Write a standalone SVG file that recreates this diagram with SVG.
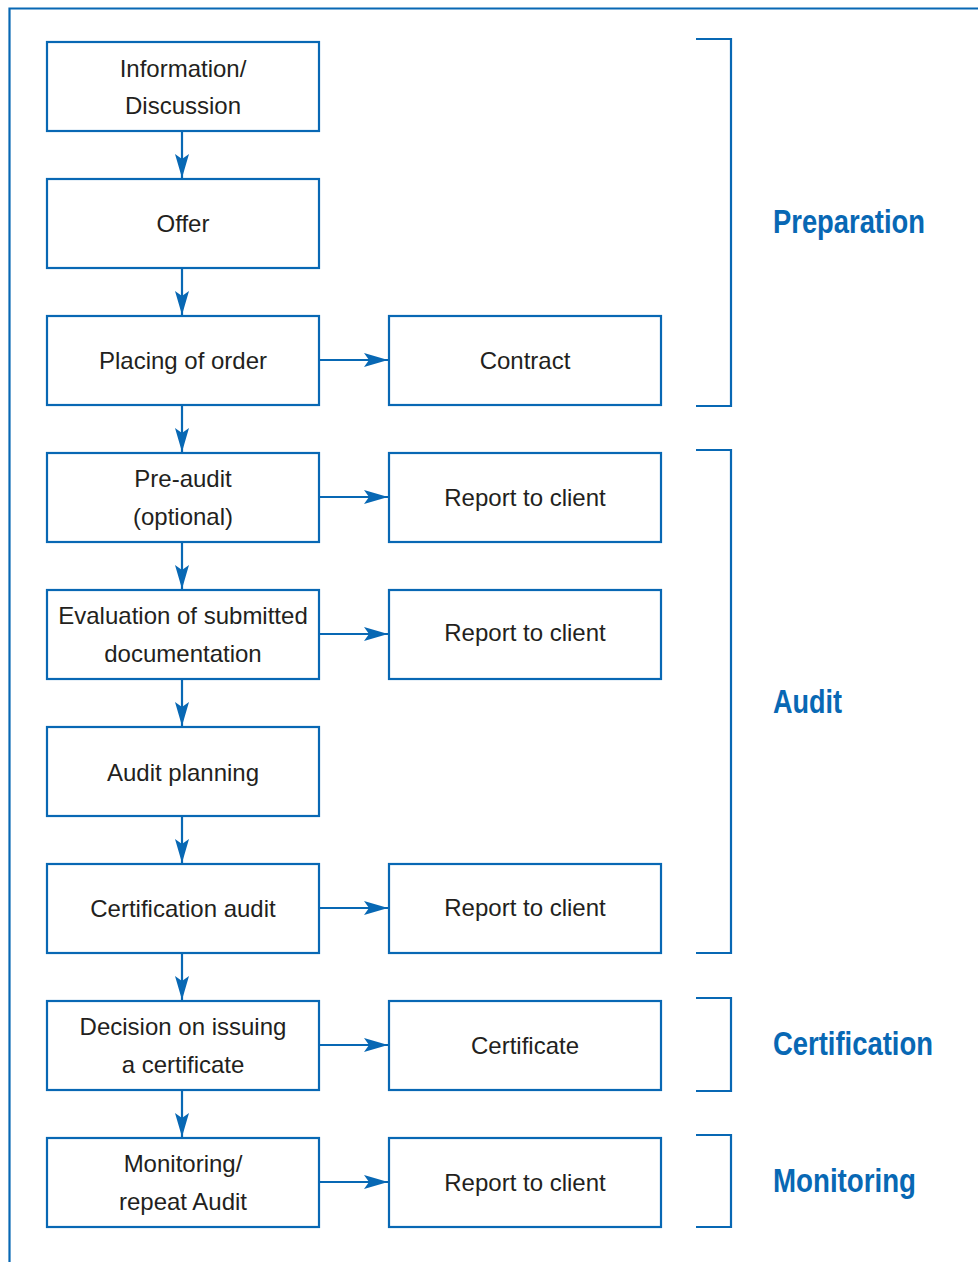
<svg xmlns="http://www.w3.org/2000/svg" width="978" height="1262" viewBox="0 0 978 1262">
<style>
.box{fill:#fff;stroke:#0868b4;stroke-width:2.2}
.t{font-family:"Liberation Sans",Arial,sans-serif;font-size:24px;fill:#231f20;text-anchor:middle}
.lab{font-family:"Liberation Sans",Arial,sans-serif;font-size:33px;font-weight:bold;fill:#0868b4}
.c{stroke:#0868b4;stroke-width:2.2;fill:none}
</style>
<defs>
<marker id="ah" viewBox="0 0 24 14" refX="24" refY="7" markerWidth="24" markerHeight="14" markerUnits="userSpaceOnUse" orient="auto">
<path d="M0,0 L24,7 L0,14 L5,7 Z" fill="#0868b4"/>
</marker>
</defs>
<rect width="978" height="1262" fill="#fff"/>
<path class="c" d="M9.5,1262 V8.5 H978"/>
<g id="connectors">
<line class="c" x1="182" y1="131" x2="182" y2="178" marker-end="url(#ah)"/>
<line class="c" x1="182" y1="268" x2="182" y2="315" marker-end="url(#ah)"/>
<line class="c" x1="182" y1="405" x2="182" y2="452" marker-end="url(#ah)"/>
<line class="c" x1="182" y1="542" x2="182" y2="589" marker-end="url(#ah)"/>
<line class="c" x1="182" y1="679" x2="182" y2="726" marker-end="url(#ah)"/>
<line class="c" x1="182" y1="816" x2="182" y2="863" marker-end="url(#ah)"/>
<line class="c" x1="182" y1="953" x2="182" y2="1000" marker-end="url(#ah)"/>
<line class="c" x1="182" y1="1090" x2="182" y2="1137" marker-end="url(#ah)"/>
<line class="c" x1="319" y1="360" x2="388" y2="360" marker-end="url(#ah)"/>
<line class="c" x1="319" y1="497" x2="388" y2="497" marker-end="url(#ah)"/>
<line class="c" x1="319" y1="634" x2="388" y2="634" marker-end="url(#ah)"/>
<line class="c" x1="319" y1="908" x2="388" y2="908" marker-end="url(#ah)"/>
<line class="c" x1="319" y1="1045" x2="388" y2="1045" marker-end="url(#ah)"/>
<line class="c" x1="319" y1="1182" x2="388" y2="1182" marker-end="url(#ah)"/>
</g>
<g id="n1"><rect class="box" x="47" y="42" width="272" height="89"/><text class="t" x="183" y="77">Information/</text><text class="t" x="183" y="114">Discussion</text></g>
<g id="n2"><rect class="box" x="47" y="179" width="272" height="89"/><text class="t" x="183" y="232">Offer</text></g>
<g id="n3"><rect class="box" x="47" y="316" width="272" height="89"/><text class="t" x="183" y="369">Placing of order</text></g>
<g id="n4"><rect class="box" x="389" y="316" width="272" height="89"/><text class="t" x="525" y="369">Contract</text></g>
<g id="n5"><rect class="box" x="47" y="453" width="272" height="89"/><text class="t" x="183" y="487">Pre-audit</text><text class="t" x="183" y="525">(optional)</text></g>
<g id="n6"><rect class="box" x="389" y="453" width="272" height="89"/><text class="t" x="525" y="506">Report to client</text></g>
<g id="n7"><rect class="box" x="47" y="590" width="272" height="89"/><text class="t" x="183" y="624">Evaluation of submitted</text><text class="t" x="183" y="662">documentation</text></g>
<g id="n8"><rect class="box" x="389" y="590" width="272" height="89"/><text class="t" x="525" y="641">Report to client</text></g>
<g id="n9"><rect class="box" x="47" y="727" width="272" height="89"/><text class="t" x="183" y="781">Audit planning</text></g>
<g id="n10"><rect class="box" x="47" y="864" width="272" height="89"/><text class="t" x="183" y="917">Certification audit</text></g>
<g id="n11"><rect class="box" x="389" y="864" width="272" height="89"/><text class="t" x="525" y="916">Report to client</text></g>
<g id="n12"><rect class="box" x="47" y="1001" width="272" height="89"/><text class="t" x="183" y="1035">Decision on issuing</text><text class="t" x="183" y="1073">a certificate</text></g>
<g id="n13"><rect class="box" x="389" y="1001" width="272" height="89"/><text class="t" x="525" y="1054">Certificate</text></g>
<g id="n14"><rect class="box" x="47" y="1138" width="272" height="89"/><text class="t" x="183" y="1172">Monitoring/</text><text class="t" x="183" y="1210">repeat Audit</text></g>
<g id="n15"><rect class="box" x="389" y="1138" width="272" height="89"/><text class="t" x="525" y="1191">Report to client</text></g>
<g id="brackets">
<path class="c" d="M696,39 H731 V406 H696"/>
<path class="c" d="M696,450 H731 V953 H696"/>
<path class="c" d="M696,998 H731 V1091 H696"/>
<path class="c" d="M696,1135 H731 V1227 H696"/>
</g>
<text class="lab" x="773" y="233" textLength="152" lengthAdjust="spacingAndGlyphs">Preparation</text>
<text class="lab" x="773" y="713" textLength="69" lengthAdjust="spacingAndGlyphs">Audit</text>
<text class="lab" x="773" y="1055" textLength="160" lengthAdjust="spacingAndGlyphs">Certification</text>
<text class="lab" x="773" y="1192" textLength="143" lengthAdjust="spacingAndGlyphs">Monitoring</text>
</svg>
